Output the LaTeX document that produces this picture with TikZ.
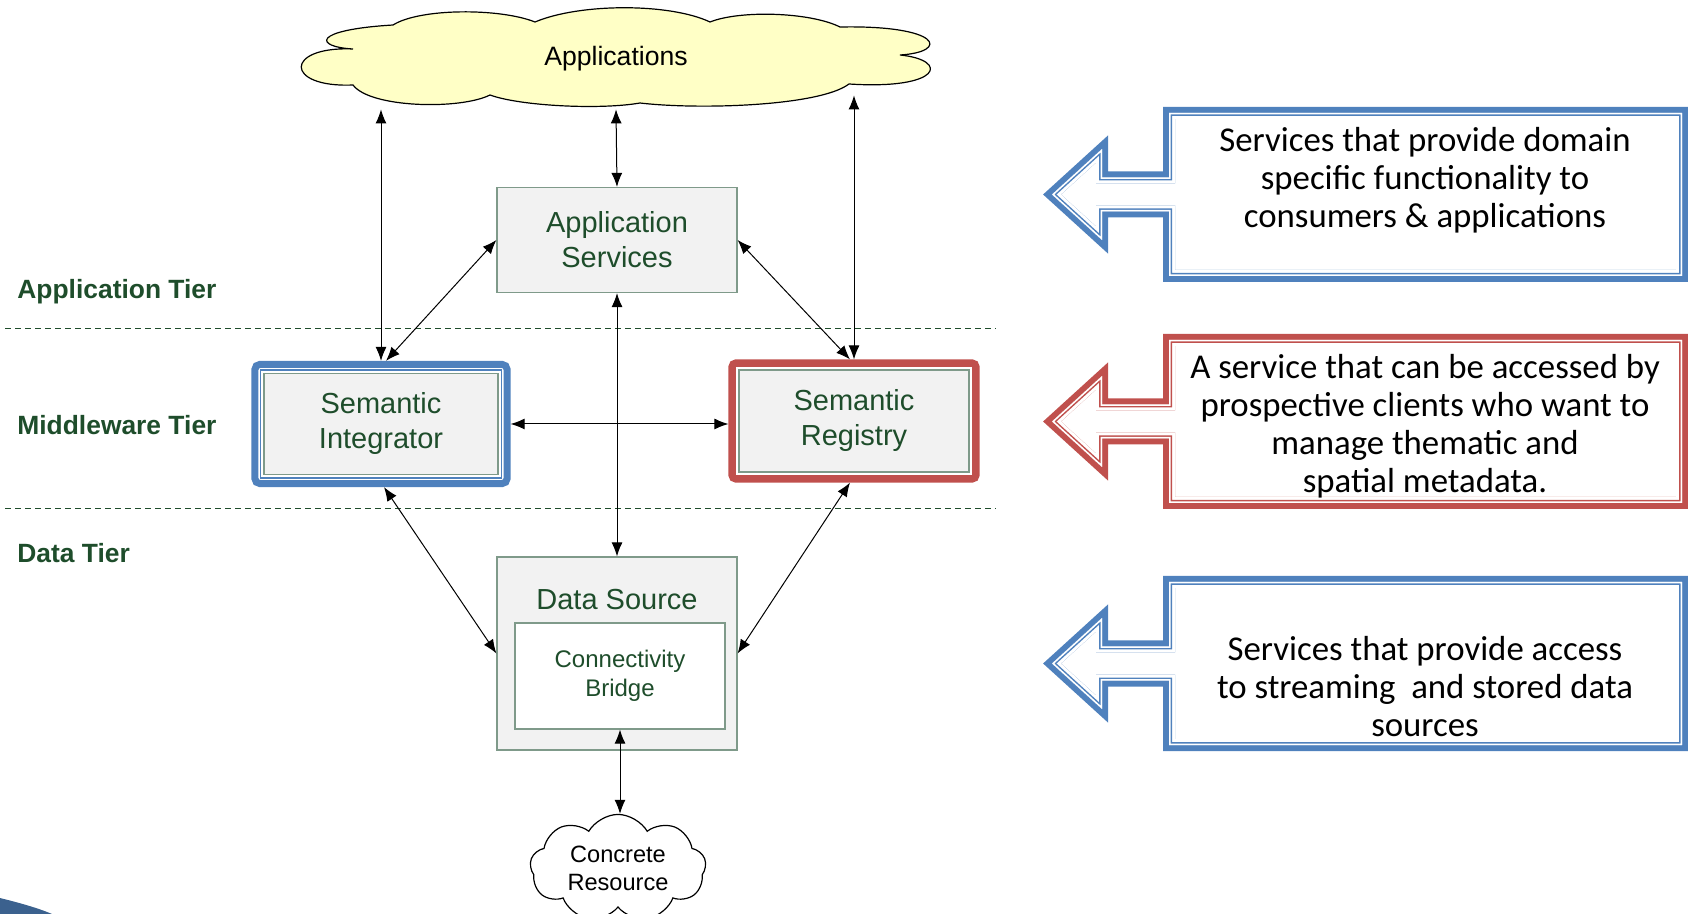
\documentclass[tikz,border=0pt]{standalone}
\usepackage{fontspec}
\setmainfont{Liberation Sans}
\newfontfamily\calibri{Carlito}
\usetikzlibrary{shapes.symbols,arrows.meta,fit,calc}

\definecolor{boxfill}{HTML}{F2F2F2}
\definecolor{boxline}{HTML}{7F9A8A}
\definecolor{tiergreen}{HTML}{1E4D2B}
\definecolor{siblue}{HTML}{4F81BD}
\definecolor{srred}{HTML}{C0504D}
\definecolor{cloudfill}{HTML}{FFFFC6}

\tikzset{
  tierbox/.style={draw=boxline, fill=boxfill, line width=0.6pt, text=tiergreen,
    align=center, inner sep=0pt, font=\fontsize{14.5}{17.5}\selectfont},
  link/.style={{Latex[length=7pt,width=5.5pt]}-{Latex[length=7pt,width=5.5pt]}, line width=0.5pt},
  tierlabel/.style={anchor=west, inner sep=0pt, text=tiergreen, font=\bfseries\fontsize{13.2}{15}\selectfont},
  tierline/.style={draw=tiergreen, dash pattern=on 3pt off 2pt, line width=0.5pt},
  note/.style={font=\calibri\fontsize{17.4}{19}\selectfont, align=center},
}

\begin{document}
\begin{tikzpicture}[x=0.5pt, y=-0.5pt]
  \useasboundingbox (0,0) rectangle (1688,914);

  % tiers
  \draw[tierline] (5,329) -- (996,329);
  \draw[tierline] (5,509) -- (996,509);
  \node[tierlabel] (apptier) at (17,292) {Application Tier};
  \node[tierlabel] (midtier) at (17,425) {Middleware Tier};
  \node[tierlabel] (datatier) at (17,553) {Data Tier};

  % clouds
  \draw[fill=cloudfill, line width=0.6pt] (353,49)
    .. controls (315,47) and (310,30) .. (393,25)
    .. controls (420,8) and (500,8) .. (535,22)
    .. controls (580,3) and (670,3) .. (710,22)
    .. controls (740,10) and (810,12) .. (840,27)
    .. controls (942,25) and (950,52) .. (900,55)
    .. controls (950,60) and (942,90) .. (849,84)
    .. controls (820,106) and (700,110) .. (640,103)
    .. controls (600,110) and (520,106) .. (490,95)
    .. controls (460,110) and (370,108) .. (353,85)
    .. controls (284,88) and (284,46) .. (353,49) -- cycle;
  \node[minimum width=316pt, minimum height=50pt,
    font=\fontsize{13.3}{16}\selectfont] (apps) at (616,59) {Applications};
  \node[cloud, cloud puffs=9, cloud puff arc=120, aspect=1.7, draw, fill=white,
    line width=0.6pt, inner sep=0pt, minimum width=88pt, minimum height=42pt, align=center,
    font=\fontsize{11.8}{14}\selectfont] (res) at (618,868) {Concrete\\Resource};

  % services
  \node[tierbox, minimum width=120pt, minimum height=52.5pt] (appsvc) at (617,240) {Application\\Services};

  \node[tierbox, minimum width=117pt, minimum height=50.5pt] (si) at (381,424) {Semantic\\Integrator};
  \node[fit=(si), inner sep=1.5pt, draw=siblue, line width=0.75pt] (siin) {};
  \node[fit=(si), inner sep=4.25pt, draw=siblue, line width=3.5pt, rounded corners=2.5pt] (siout) {};

  \node[tierbox, minimum width=115pt, minimum height=51pt] (sr) at (854,421) {Semantic\\Registry};
  \node[fit=(sr), inner sep=1.5pt, draw=srred, line width=0.8pt] (srin) {};
  \node[fit=(sr), inner sep=3.25pt, draw=srred, line width=3.5pt, rounded corners=2pt] (srout) {};

  \node[tierbox, minimum width=120pt, minimum height=96.5pt] (ds) at (617,653.5) {};
  \node[text=tiergreen, font=\fontsize{14.5}{17.5}\selectfont] (dstitle) at (617,600) {Data Source};
  \node[tierbox, fill=white, minimum width=105pt, minimum height=53pt,
    font=\fontsize{12}{14.5}\selectfont] (cb) at (620,676) {Connectivity\\Bridge};

  % links
  \draw[link] (siout.north |- apps.south) -- (siout.north);
  \draw[link] (apps.south) -- (appsvc.north);
  \draw[link] ($(srout.north |- apps.south)+(0,-14)$) -- (srout.north);
  \draw[link] (appsvc.west) -- ($(siout.north)+(5,0)$);
  \draw[link] (appsvc.east) -- ($(srout.north)+(-4,0)$);
  \draw[link] (appsvc.south) -- (ds.north);
  \draw[link] (siout.east) -- (siout.east -| srout.west);
  \draw[link] ($(siout.south)+(3,0)$) -- (ds.west);
  \draw[link] ($(srout.south)+(-4,0)$) -- (ds.east);
  \draw[link] (cb.south) -- (cb.south |- res.north);

  % callouts
  \foreach \ty/\col in {107/siblue, 334/srred, 576/siblue} {
    \def\callpath{(1169,\ty+6) -- (1682,\ty+6) -- (1682,\ty+169) -- (1169,\ty+169)
      -- (1169,\ty+104.5) -- (1102,\ty+104.5) -- (1102,\ty+133) -- (1052,\ty+87.5)
      -- (1102,\ty+42) -- (1102,\ty+70.5) -- (1169,\ty+70.5) -- cycle}
    \draw[\col, line width=6pt, line join=miter, fill=white] \callpath;
    \begin{scope}
      \clip \callpath;
      \draw[white, line width=6pt] \callpath;
      \draw[\col, line width=3pt] \callpath;
      \draw[white, line width=1.5pt] \callpath;
    \end{scope}
  }
  \node[note] (svcnote) at (1425,180) {Services that provide domain\\specific functionality to\\consumers \& applications};
  \node[note] (regnote) at (1425,426) {A service that can be accessed by\\prospective clients who want to\\manage thematic and\\spatial metadata.};
  \node[note] (datanote) at (1425,687) {Services that provide access\\to streaming~ and stored data\\sources};

  % corner
  \fill[siblue!75!black] (0,898) .. controls (20,903) and (38,908) .. (52,914) -- (0,914) -- cycle;
\end{tikzpicture}
\end{document}
